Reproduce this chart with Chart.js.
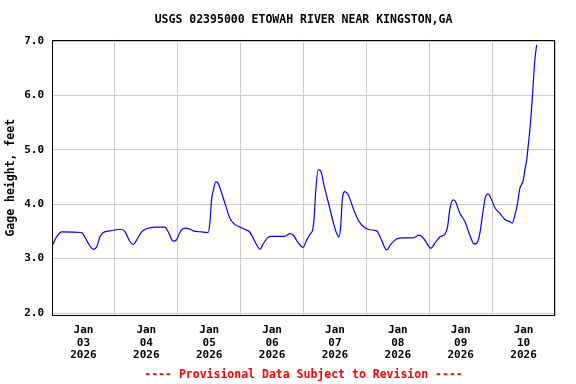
<!DOCTYPE html>
<html>
<head>
<meta charset="utf-8">
<script src="https://cdn.jsdelivr.net/npm/chart.js@4.4.1/dist/chart.umd.min.js"></script>
<style>
  html, body { margin: 0; padding: 0; background: #ffffff; }
  #wrap { width: 576px; height: 384px; }
</style>
</head>
<body>
<div id="wrap"><canvas id="c" width="576" height="384"></canvas></div>
<script>
// ---- data (hours since 2026-01-03 00:00, gage height in feet) ----
const hoursSinceStart = [
  0.0, 1.5, 3.1, 3.8, 11.4, 12.0, 13.9, 15.8, 17.1, 18.3, 19.6, 22.1, 26.6, 27.9, 29.8, 31.0,
  32.3, 34.2, 36.1, 39.3, 43.1, 44.4, 46.3, 47.6, 48.6, 49.5, 50.8, 52.7, 53.9, 57.1, 59.6, 60.3,
  60.9, 61.6, 62.5, 63.2, 64.8, 66.0, 67.9, 69.8, 71.7, 73.6, 75.6, 77.5, 79.4, 80.6, 82.5, 83.8,
  88.9, 90.8, 92.1, 94.0, 95.3, 95.9, 97.2, 98.5, 99.5, 100.0, 100.7, 101.6, 102.5, 103.8, 105.4,
  107.3, 108.6, 109.5, 110.2, 110.8, 111.8, 113.1, 115.0, 116.9, 118.8, 121.3, 123.9, 125.8, 127.7,
  129.6, 131.5, 133.9, 137.8, 140.2, 142.3, 143.9, 144.6, 146.1, 148.1, 150.0, 151.0, 151.9, 153.1,
  154.0, 155.7, 157.6, 159.5, 161.1, 162.1, 163.3, 164.6, 165.5, 166.5, 167.8, 169.0, 171.0, 172.9,
  174.8, 175.7, 176.7, 177.6, 178.6, 179.9, 180.5, 181.2, 181.8, 182.4, 183.1, 183.7, 184.3, 185.0
];
const gageHeightFt = [
  3.22, 3.38, 3.48, 3.49, 3.48, 3.44, 3.28, 3.17, 3.22, 3.40, 3.48, 3.51, 3.54, 3.49, 3.31, 3.26,
  3.34, 3.49, 3.55, 3.58, 3.58, 3.49, 3.32, 3.35, 3.46, 3.53, 3.56, 3.54, 3.51, 3.49, 3.48, 3.68,
  4.08, 4.26, 4.41, 4.40, 4.20, 4.02, 3.74, 3.63, 3.58, 3.54, 3.48, 3.31, 3.17, 3.27, 3.39, 3.41,
  3.41, 3.46, 3.43, 3.29, 3.22, 3.21, 3.34, 3.45, 3.53, 3.71, 4.26, 4.63, 4.62, 4.35, 4.05,
  3.68, 3.47, 3.40, 3.59, 4.08, 4.23, 4.17, 3.92, 3.71, 3.59, 3.53, 3.51, 3.34, 3.16,
  3.28, 3.36, 3.38, 3.38, 3.43, 3.34, 3.22, 3.19, 3.28, 3.40, 3.45, 3.59, 3.92, 4.08,
  4.05, 3.83, 3.68, 3.43, 3.27, 3.28, 3.46, 3.89, 4.14, 4.19, 4.08, 3.94, 3.83, 3.72,
  3.68, 3.65, 3.80, 3.99, 4.29, 4.44, 4.63, 4.81, 5.09, 5.36, 5.79, 6.22, 6.65, 6.93
];
const dayLabels = ['03', '04', '05', '06', '07', '08', '09', '10'];
const monthLabel = 'Jan';
const yearLabel = '2026';
const yTickValues = [2.0, 3.0, 4.0, 5.0, 6.0, 7.0];
const chartTitle = 'USGS 02395000 ETOWAH RIVER NEAR KINGSTON,GA';
const yAxisTitle = 'Gage height, feet';
const footerText = '---- Provisional Data Subject to Revision ----';

const FONT = "'DejaVu Sans Mono', 'Liberation Mono', monospace";
Chart.defaults.color = '#000000';
Chart.defaults.font.family = FONT;
Chart.defaults.font.weight = 'bold';

const frame = {
  id: 'frame',
  afterDraw(chart) {
    const a = chart.chartArea, ctx = chart.ctx;
    ctx.save();
    ctx.strokeStyle = '#000000';
    ctx.lineWidth = 1;
    const l = Math.round(a.left) + 0.5, t = Math.round(a.top) + 0.5;
    const r = Math.round(a.right) - 0.5, b = Math.round(a.bottom) - 0.5;
    ctx.strokeRect(l, t, r - l, b - t);
    ctx.restore();
  }
};

new Chart(document.getElementById('c'), {
  type: 'line',
  data: {
    datasets: [{
      data: hoursSinceStart.map((h, i) => ({ x: h, y: gageHeightFt[i] })),
      borderColor: '#0000ff',
      borderWidth: 1.2,
      pointRadius: 0,
      fill: false,
      cubicInterpolationMode: 'monotone'
    }]
  },
  options: {
    responsive: false,
    animation: false,
    layout: { padding: { left: 0, right: 21, top: 0, bottom: 0 } },
    plugins: {
      legend: { display: false },
      tooltip: { enabled: false },
      title: {
        display: true,
        text: chartTitle,
        fullSize: false,
        color: '#000000',
        font: { size: 11.5, weight: 'bold', family: FONT, lineHeight: 1.2 },
        padding: { top: 13.2, bottom: 12.5 }
      },
      subtitle: {
        display: true,
        position: 'bottom',
        text: footerText,
        fullSize: false,
        color: '#ff0000',
        font: { size: 11.5, weight: 'bold', family: FONT, lineHeight: 1.2 },
        padding: { top: 0, bottom: 2.1 }
      }
    },
    scales: {
      x: {
        type: 'linear',
        min: 0,
        max: 192,
        afterFit(s) { s.height = 52.1; },
        afterBuildTicks(s) {
          const t = [];
          for (let v = 0; v <= 192; v += 12) t.push({ value: v });
          s.ticks = t;
        },
        grid: {
          drawTicks: false,
          color: (ctx) => (ctx.tick && ctx.tick.value % 24 === 0) ? '#cccccc' : 'rgba(0,0,0,0)',
          lineWidth: 1
        },
        border: { display: false },
        ticks: {
          autoSkip: false,
          maxRotation: 0,
          minRotation: 0,
          padding: 7.7,
          color: '#000000',
          font: { size: 11, weight: 'bold', family: FONT, lineHeight: 1.15 },
          callback(v) {
            if (v % 24 === 12) {
              const d = dayLabels[Math.floor(v / 24)];
              return [monthLabel, d, yearLabel];
            }
            return '';
          }
        }
      },
      y: {
        type: 'linear',
        min: 1.945,
        max: 7.028,
        afterFit(s) { s.width = 52; },
        afterBuildTicks(s) { s.ticks = yTickValues.map(v => ({ value: v })); },
        grid: { drawTicks: false, color: '#cccccc', lineWidth: 1 },
        border: { display: false },
        ticks: {
          padding: 8,
          color: '#000000',
          font: { size: 11, weight: 'bold', family: FONT },
          callback(v) { return Number(v).toFixed(1); }
        },
        title: {
          display: true,
          text: yAxisTitle,
          color: '#000000',
          font: { size: 11.5, weight: 'bold', family: FONT, lineHeight: 1.2 },
          padding: { top: 4, bottom: 0 }
        }
      }
    }
  },
  plugins: [frame]
});
</script>
</body>
</html>
